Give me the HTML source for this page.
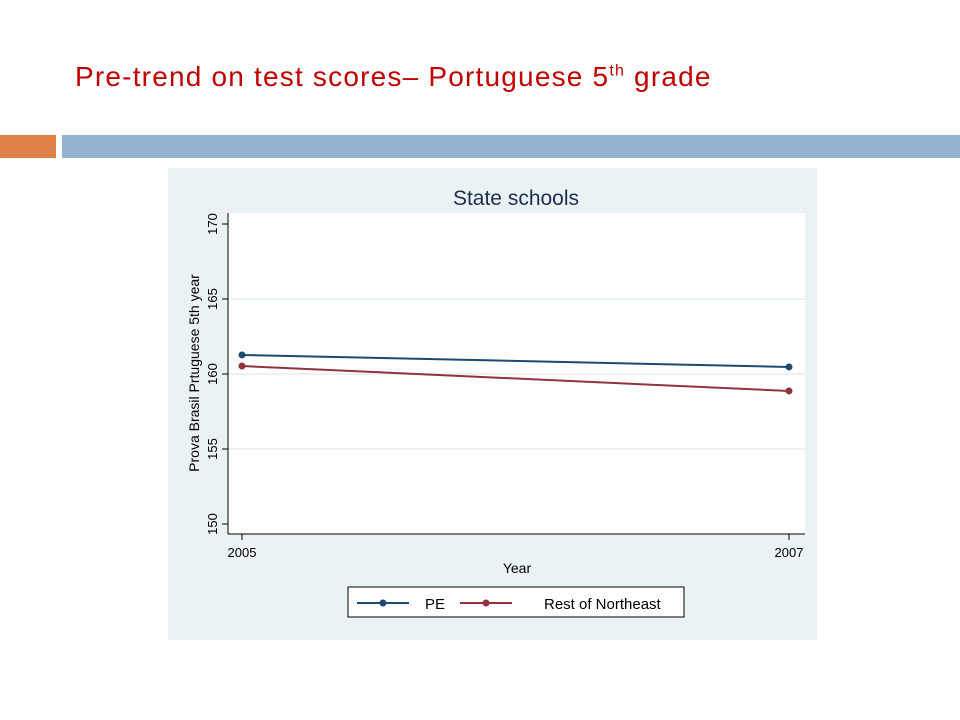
<!DOCTYPE html>
<html><head><meta charset="utf-8"><style>
body{margin:0;width:960px;height:720px;background:#fff;position:relative;overflow:hidden;font-family:"Liberation Sans",sans-serif}
#title{position:absolute;left:75px;top:61px;font-size:28px;letter-spacing:1.2px;color:#c00000;white-space:nowrap}
#title sup{font-size:16px}
</style></head><body>
<div id="title">Pre-trend on test scores– Portuguese 5<sup>th</sup> grade</div>
<div style="position:absolute;left:0;top:135px;width:56px;height:23px;background:#e0834a"></div>
<div style="position:absolute;left:62px;top:135px;width:898px;height:23px;background:#94b3d1"></div>
<svg id="chart" width="960" height="720" style="position:absolute;left:0;top:0" font-family="Liberation Sans, sans-serif"></svg>
<script>
const years=[2005,2007];
const pe=[161.27,160.47];
const rest=[160.53,158.87];
const yTicks=[150,155,160,165,170];
const seriesNames=["PE","Rest of Northeast"];
const NS="http://www.w3.org/2000/svg";
const svg=document.getElementById('chart');
function mk(t,a,p){const e=document.createElementNS(NS,t);for(const k in a)e.setAttribute(k,a[k]);(p||svg).appendChild(e);return e;}
const X=v=>242+(v-2005)/(2007-2005)*547;
const Y=v=>524-(v-150)/(170-150)*300;
let e;
e=mk('rect',{x:168,y:168,width:649,height:472,fill:'#eaf2f3'});

e=mk('rect',{x:228,y:213,width:577,height:321,fill:'#fff'});

e=mk('text',{x:516,y:205,'text-anchor':'middle','font-size':21,fill:'#1e2d4b'});e.textContent='State schools';

yTicks.forEach(t=>{
 if(t!==150&&t!==170){e=mk('line',{x1:228,x2:805,y1:Y(t),y2:Y(t),stroke:'#eaf2f3','stroke-width':2});
 }
 e=mk('line',{x1:222,x2:228,y1:Y(t),y2:Y(t),stroke:'#000'});
 
 e=mk('text',{x:0,y:0,'font-size':13,'text-anchor':'middle',transform:`translate(217,${Y(t)}) rotate(-90)`});e.textContent=t;
 
});
e=mk('line',{x1:228,x2:228,y1:213,y2:534,stroke:'#000'});
e=mk('line',{x1:228,x2:805,y1:534,y2:534,stroke:'#000'});
years.forEach(y=>{
 e=mk('line',{x1:X(y),x2:X(y),y1:534,y2:540,stroke:'#000'});
 e=mk('text',{x:X(y),y:557,'font-size':13,'text-anchor':'middle'});e.textContent=y;
});
e=mk('text',{x:517,y:573,'font-size':14,'text-anchor':'middle'});e.textContent='Year';
e=mk('text',{x:0,y:0,'font-size':14,'text-anchor':'middle',transform:'translate(199,373) rotate(-90)'});e.textContent='Prova Brasil Prtuguese 5th year';

const cols=['#1c4a70','#90333f'];
[pe,rest].forEach((s,i)=>{
 e=mk('polyline',{points:s.map((v,j)=>X(years[j])+','+Y(v)).join(' '),fill:'none',stroke:cols[i],'stroke-width':2});
 
 s.forEach((v,j)=>{e=mk('circle',{cx:X(years[j]),cy:Y(v),r:3.5,fill:cols[i]});});
});
e=mk('rect',{x:348,y:587,width:336,height:30,fill:'#fff',stroke:'#000'});
[[357,417],[457,517]].forEach((p,i)=>{
 e=mk('line',{x1:p[0]+(i?3:0),x2:p[0]+52+(i?3:0),y1:603,y2:603,stroke:cols[i],'stroke-width':2});
 e=mk('circle',{cx:p[0]+26+(i?3:0),cy:603,r:3.5,fill:cols[i]});
 e=mk('text',{x:i?544:425,y:609,'font-size':15});e.textContent=seriesNames[i];
});
</script>
</body></html>
